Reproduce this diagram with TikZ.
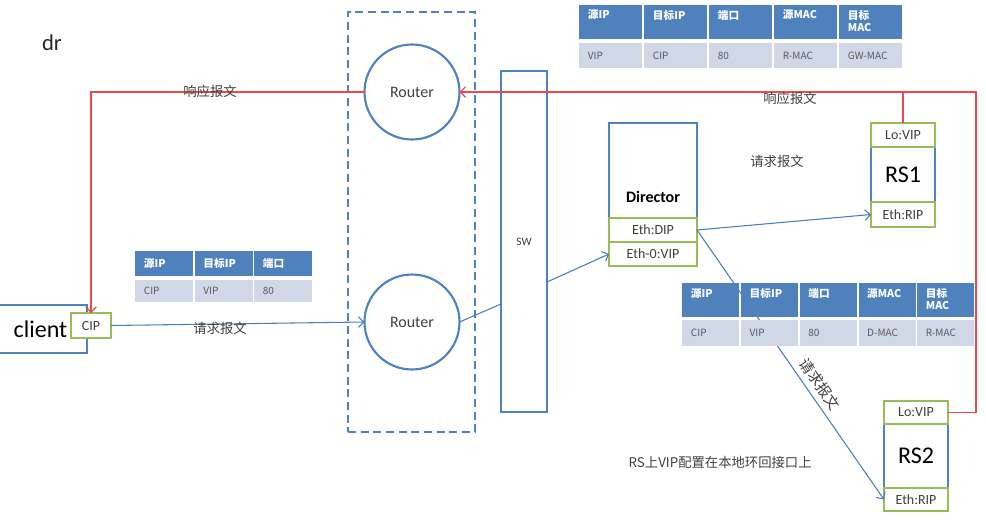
\documentclass[tikz,border=0pt]{standalone}
\usepackage{fontspec}
\setmainfont{Carlito}
\newfontfamily\cjk{Noto Sans CJK SC}
\usetikzlibrary{positioning,arrows.meta}
\definecolor{lvsblue}{HTML}{4F81BD}
\definecolor{lvsline}{HTML}{4A7EBB}
\definecolor{lvsgreen}{HTML}{9BBB59}
\definecolor{lvscell}{HTML}{D0D8E8}
\definecolor{lvsred}{HTML}{F04848}
\definecolor{lvstext}{HTML}{404040}
\newcommand{\DrPx}{0.75}

\tikzset{
  host/.style={draw=lvsblue, line width=1.6pt, fill=white, inner sep=0pt, outer sep=0pt, text=black},
  nic/.style={draw=lvsgreen, line width=2pt, fill=white, inner sep=0pt, outer sep=0pt,
    font=\fontsize{10.5}{12}\selectfont, text=lvstext},
  router/.style={circle, draw=lvsblue, line width=1.6pt, inner sep=0pt, outer sep=0pt,
    minimum size=\DrPx*95pt, font=\fontsize{12}{14}\selectfont, text=lvstext},
  zone/.style={draw=lvsblue, line width=1.6pt, dash pattern=on 6pt off 3.5pt, inner sep=0pt},
  tip/.style={-{Straight Barb[length=4pt,width=8pt]}},
  req/.style={draw=lvsline, line width=0.8pt},
  resp/.style={draw=lvsred, line width=0.8pt},
  note/.style={font=\cjk\fontsize{10}{12}\selectfont, text=lvstext},
  headcell/.style={anchor=north west, fill=lvsblue, text=white, inner xsep=6.5pt, inner ysep=0pt,
    font=\cjk\bfseries\fontsize{8}{9}\selectfont, align=left},
  rowcell/.style={anchor=north west, fill=lvscell, text=black!65, inner xsep=6.5pt, inner ysep=0pt,
    font=\cjk\fontsize{7.5}{9}\selectfont, align=left},
}

\begin{document}
\begin{tikzpicture}[x=\DrPx pt, y=-\DrPx pt]
  \useasboundingbox (0,0) rectangle (986,522);

  \node[font=\fontsize{17}{20}\selectfont, text=black!85] (title) at (52,43) {dr};

  % routers and switch
  \node[zone, minimum width=\DrPx*127pt, minimum height=\DrPx*420pt] (edge) at (411.5,222) {};
  \node[router] (rtA) at (412,92) {Router};
  \node[router] (rtB) at (412,322) {Router};
  \node[host, minimum width=\DrPx*46pt, minimum height=\DrPx*341pt,
        font=\fontsize{8.5}{10}\selectfont, text=lvstext] (sw) at (524,241.5) {SW};

  % client
  \node[host, minimum width=\DrPx*93pt, minimum height=\DrPx*48pt,
        font=\fontsize{18}{20}\selectfont] (client) at (40.5,329) {client};
  \node[nic, minimum width=\DrPx*40pt, minimum height=\DrPx*25pt] (cip) at (91,325.5) {CIP};

  % director
  \node[host, minimum width=\DrPx*88pt, minimum height=\DrPx*95pt] (dir) at (653,170.5) {};
  \node[above=8pt of dir.south, font=\bfseries\fontsize{12}{14}\selectfont] (dirname) {Director};
  \node[nic, minimum width=\DrPx*88pt, minimum height=\DrPx*24pt, below=0pt of dir] (dip) {Eth:DIP};
  \node[nic, minimum width=\DrPx*88pt, minimum height=\DrPx*24pt, below=0pt of dip] (vip) {Eth-0:VIP};

  % real servers
  \node[host, minimum width=\DrPx*64pt, minimum height=\DrPx*104pt,
        font=\fontsize{18}{20}\selectfont] (rs1) at (903,175) {RS1};
  \node[nic, minimum width=\DrPx*64pt, minimum height=\DrPx*24pt, below=0pt of rs1.north] (lo1) {Lo:VIP};
  \node[nic, minimum width=\DrPx*64pt, minimum height=\DrPx*25pt, above=0pt of rs1.south] (rip1) {Eth:RIP};

  \node[host, minimum width=\DrPx*64pt, minimum height=\DrPx*110pt,
        font=\fontsize{18}{20}\selectfont] (rs2) at (916,456) {RS2};
  \node[nic, minimum width=\DrPx*64pt, minimum height=\DrPx*23pt, below=0pt of rs2.north] (lo2) {Lo:VIP};
  \node[nic, minimum width=\DrPx*64pt, minimum height=\DrPx*23pt, above=0pt of rs2.south] (rip2) {Eth:RIP};

  % request path
  \coordinate (swin) at (501,304);
  \coordinate (swout) at (547,282);
  \draw[req, tip] (cip.east) -- (rtB.west);
  \draw[req] (rtB.east) -- (swin);
  \draw[req, tip] (swout) -- (vip.west);
  \draw[req, tip] (dip.east) -- (rip1.west);
  \draw[req, tip] (dip.east) -- (rip2.west)
    node[note, font=\cjk\fontsize{11}{13}\selectfont, pos=0.6, sloped, above=1pt] (reqC) {请求报文};

  % response path
  \coordinate (rback) at (976,92);
  \draw[resp, tip] (lo2.east) -| (rback) -- (rtA.east);
  \draw[resp] (lo1.north) -- (lo1.north |- rback);
  \draw[resp, tip] (rtA.west) -| (cip.north);

  \node[note] (respA) at (210,91) {响应报文};
  \node[note] (respB) at (790,98) {响应报文};
  \node[note] (reqA) at (220,328) {请求报文};
  \node[note] (reqB) at (777,161) {请求报文};
  \node[note, anchor=west] (vipnote) at (624,462) {RS上VIP配置在本地环回接口上};

  % packet tables
  \foreach \hda/\hdb/\val [count=\i from 0] in {源IP//VIP,目标IP//CIP,端口//80,源MAC//R-MAC,目标/MAC/GW-MAC}{
    \node[headcell, text width=\DrPx*63pt-13pt, minimum height=\DrPx*34pt] (back-h\i) at (579+\i*65,5) {\strut\hda\\\strut\hdb};
    \node[rowcell, text width=\DrPx*63pt-13pt, minimum height=\DrPx*25pt] (back-r\i) at (579+\i*65,43) {\val};
  }
  \foreach \hda/\val [count=\i from 0] in {源IP/CIP,目标IP/VIP,端口/80}{
    \node[headcell, text width=\DrPx*58pt-13pt, minimum height=\DrPx*25pt] (in-h\i) at (135+\i*59.5,251) {\hda};
    \node[rowcell, text width=\DrPx*58pt-13pt, minimum height=\DrPx*22pt] (in-r\i) at (135+\i*59.5,280) {\val};
  }
  \foreach \hda/\hdb/\val [count=\i from 0] in {源IP//CIP,目标IP//VIP,端口//80,源MAC//D-MAC,目标/MAC/R-MAC}{
    \node[headcell, text width=\DrPx*57pt-13pt, minimum height=\DrPx*34pt] (fwd-h\i) at (682+\i*58.75,283) {\strut\hda\\\strut\hdb};
    \node[rowcell, text width=\DrPx*57pt-13pt, minimum height=\DrPx*26pt] (fwd-r\i) at (682+\i*58.75,320) {\val};
  }
\end{tikzpicture}
\end{document}
